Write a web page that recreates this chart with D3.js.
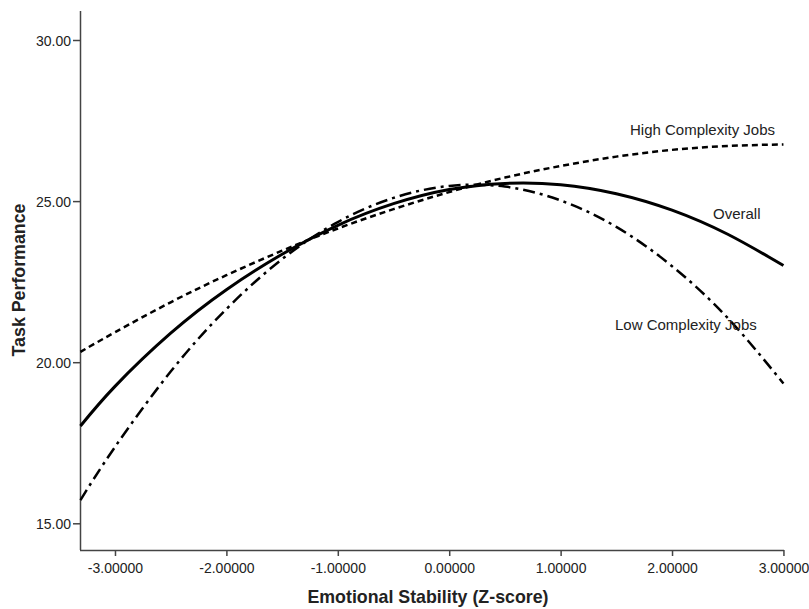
<!DOCTYPE html>
<html>
<head>
<meta charset="utf-8">
<script src="https://cdn.jsdelivr.net/npm/d3@7"></script>
<style>
  body { margin: 0; background: #fff; }
  text { font-family: "Liberation Sans", Arial, sans-serif; }
</style>
</head>
<body>
<svg id="chart" width="809" height="609"></svg>
<script>
// values
var zScores = [-3.31, -3, -2.5, -2, -1.5, -1, -0.5, 0, 0.5, 1, 1.5, 2, 2.5, 3];
var overall = [18.02, 19.25, 20.90, 22.25, 23.35, 24.25, 24.92, 25.36, 25.55, 25.51, 25.23, 24.72, 23.97, 23.00];
var lowJobs = [15.72, 17.37, 19.71, 21.65, 23.20, 24.35, 25.10, 25.47, 25.45, 25.02, 24.20, 22.98, 21.37, 19.34];
var highJobs = [20.32, 20.93, 21.86, 22.70, 23.46, 24.15, 24.75, 25.28, 25.73, 26.09, 26.38, 26.59, 26.71, 26.76];
var xTicks = [-3, -2, -1, 0, 1, 2, 3];
var yTicks = [15, 20, 25, 30];

var svg = d3.select("#chart");

var x = d3.scaleLinear().domain([-3.314, 3.005]).range([80, 784]);
var y = d3.scaleLinear().domain([15, 30]).range([523.3, 40]);
var yBottom = 550, yTop = 11;

// axes
var xAxis = svg.append("g")
  .attr("transform", "translate(0," + yBottom + ")")
  .call(d3.axisBottom(x).tickValues(xTicks).tickSize(6).tickSizeOuter(0)
    .tickFormat(function(d) { return d3.format(".5f")(d).replace("\u2212", "-"); }));

var yAxis = svg.append("g")
  .attr("transform", "translate(80,0)")
  .call(d3.axisLeft(y).tickValues(yTicks).tickSize(7).tickSizeOuter(0)
    .tickFormat(d3.format(".2f")));

// extend axis lines to the full frame
xAxis.select(".domain").attr("d", "M80,0.5H784");
yAxis.select(".domain").attr("d", "M0.5," + yTop + "V" + yBottom);

svg.selectAll(".domain, .tick line")
  .attr("stroke", "#444")
  .attr("stroke-width", 1.5);
svg.selectAll(".tick text")
  .attr("fill", "#222")
  .style("font-size", "14px");
xAxis.selectAll(".tick text").attr("y", 23).attr("dy", 0);
yAxis.selectAll(".tick text").attr("x", -9).attr("dy", "0.36em");

// axis titles
svg.append("text")
  .attr("x", 428).attr("y", 603)
  .attr("text-anchor", "middle")
  .style("font-size", "17.8px").style("font-weight", "bold")
  .attr("fill", "#222")
  .text("Emotional Stability (Z-score)");

svg.append("text")
  .attr("transform", "translate(25,280) rotate(-90)")
  .attr("text-anchor", "middle")
  .style("font-size", "17.8px").style("font-weight", "bold")
  .attr("fill", "#222")
  .text("Task Performance");

// curves
var series = [
  { name: "High", values: highJobs, width: 2.5, dash: "6,4" },
  { name: "Low", values: lowJobs, width: 2.5, dash: "12,5,3,5" },
  { name: "Overall", values: overall, width: 3, dash: null }
];

var line = d3.line()
  .x(function(d) { return x(d.z); })
  .y(function(d) { return y(d.v); })
  .curve(d3.curveNatural);

svg.append("g").selectAll("path")
  .data(series)
  .enter().append("path")
    .attr("d", function(s) {
      return line(zScores.map(function(z, i) { return { z: z, v: s.values[i] }; }));
    })
    .attr("fill", "none")
    .attr("stroke", "#000")
    .attr("stroke-width", function(s) { return s.width; })
    .attr("stroke-dasharray", function(s) { return s.dash; });

// curve labels
var labels = [
  { text: "High Complexity Jobs", x: 630, y: 135 },
  { text: "Overall", x: 713, y: 219 },
  { text: "Low Complexity Jobs", x: 615, y: 330 }
];
svg.append("g").selectAll("text")
  .data(labels)
  .enter().append("text")
    .attr("x", function(d) { return d.x; })
    .attr("y", function(d) { return d.y; })
    .style("font-size", "15px")
    .attr("fill", "#222")
    .text(function(d) { return d.text; });
</script>
</body>
</html>
